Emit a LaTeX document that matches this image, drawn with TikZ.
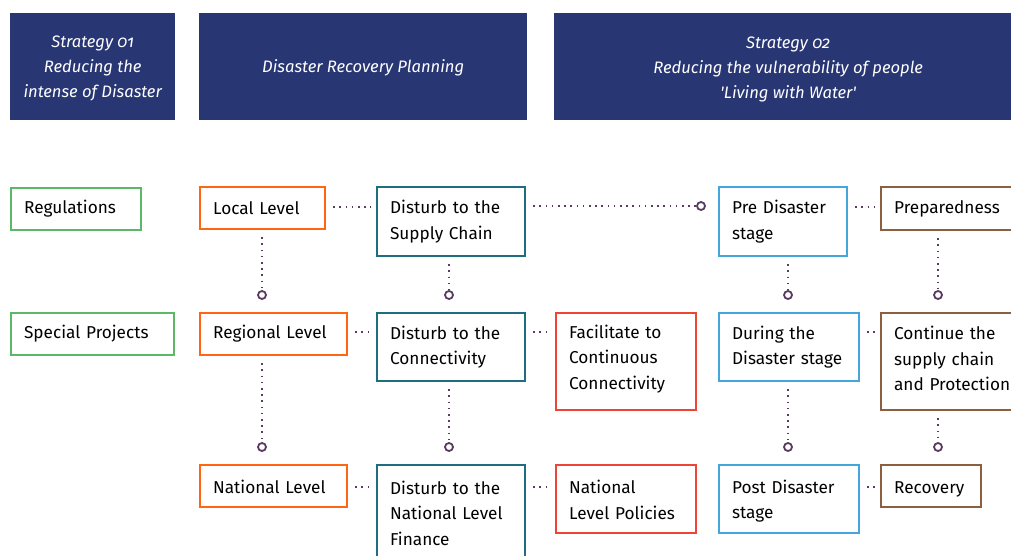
\documentclass[tikz,border=0pt]{standalone}
\usepackage{fontspec}
\setmainfont{Fira Sans}
\newfontfamily\hdrfont[Numbers=OldStyle]{Fira Sans}
\definecolor{navy}{HTML}{283673}
\definecolor{cgreen}{HTML}{5CB866}
\definecolor{corange}{HTML}{FF6614}
\definecolor{cteal}{HTML}{1F6E80}
\definecolor{cred}{HTML}{EE4436}
\definecolor{cblue}{HTML}{45A5DD}
\definecolor{cbrown}{HTML}{8C5F3F}
\definecolor{cdot}{HTML}{5A3A60}
\newcommand\upstrut[1]{\rule{0pt}{#1}}
\newcommand\dnstrut[1]{\rule[-#1]{0pt}{0pt}}
\begin{document}
\begin{tikzpicture}[x=1pt,y=-1pt,
  hdr/.style={fill=navy, text=white, align=center, anchor=north west, inner sep=0pt,
    font=\hdrfont\itshape\fontsize{16.6}{25}\selectfont},
  bx/.style={draw, fill=white, line width=2.2pt, inner xsep=13pt, inner ysep=0pt, align=left,
    anchor=north west, font=\fontsize{17.2}{25.5}\selectfont},
  dotline/.style={draw=cdot, line width=1.8pt, dash pattern=on 1.6pt off 4.6pt},
  ring/.style={circle, draw=cdot, line width=1.8pt, fill=white, minimum size=8pt, inner sep=0pt},
  hgap/.style={shorten <=7pt, shorten >=5pt}]
\useasboundingbox (0,0) rectangle (1011,556);
% headers
\node[hdr, minimum width=165pt, minimum height=107pt] (h1) at (10,13) {\upstrut{16pt}Strategy 01\\Reducing the\\intense of Disaster};
\node[hdr, minimum width=328pt, minimum height=107pt] (h2) at (199,13) {\upstrut{16pt}Disaster Recovery Planning};
\node[hdr, minimum width=468pt, minimum height=107pt] (h3) at (554,13) {\upstrut{17pt}Strategy 02\\Reducing the vulnerability of people\\'Living with Water'};
% left labels
\node[bx, draw=cgreen, text width=104pt, minimum height=42pt] (reg) at (10,187) {Regulations};
\node[bx, draw=cgreen, text width=137pt, minimum height=42pt] (spp) at (10,312) {Special Projects};
% column 1
\node[bx, draw=corange, text width=99pt, minimum height=42pt] (loc) at (199,186) {Local Level};
\node[bx, draw=corange, text width=121pt, minimum height=42pt] (rgn) at (199,312) {Regional Level};
\node[bx, draw=corange, text width=121pt, minimum height=42pt] (nat) at (199,464) {\upstrut{14pt}National Level};
% column 2
\node[bx, draw=cteal, text width=122pt, minimum height=69pt] (sc) at (376,186) {Disturb to the\\Supply Chain};
\node[bx, draw=cteal, text width=122pt, minimum height=68pt] (con) at (376,312) {Disturb to the\\Connectivity};
\node[bx, draw=cteal, text width=122pt, minimum height=96pt] (fin) at (376,464) {Disturb to the\\National Level\\Finance};
% column 3
\node[bx, draw=cred, text width=114pt, minimum height=97pt] (fac) at (555,312) {Facilitate to\\Continuous\\Connectivity\dnstrut{9pt}};
\node[bx, draw=cred, text width=114pt, minimum height=68pt] (nlp) at (555,464) {\upstrut{15pt}National\\Level Policies};
% column 4
\node[bx, draw=cblue, text width=102pt, minimum height=69pt] (pre) at (718,186) {Pre Disaster\\stage};
\node[bx, draw=cblue, text width=114pt, minimum height=68pt] (dur) at (718,312) {During the\\Disaster stage};
\node[bx, draw=cblue, text width=114pt, minimum height=68pt] (post) at (718,464) {\upstrut{17pt}Post Disaster\\stage};
% column 5
\node[bx, draw=cbrown, text width=124pt, minimum height=43pt] (prep) at (880,186) {Preparedness};
\node[bx, draw=cbrown, text width=124pt, minimum height=97pt] (cont) at (880,312) {Continue the\\supply chain\\and Protection\dnstrut{6pt}};
\node[bx, draw=cbrown, text width=74pt, minimum height=42pt] (rec) at (880,464) {\upstrut{18pt}Recovery};
% rings
\node[ring] (r1) at (262,295) {};
\node[ring] (r2) at (449,295) {};
\node[ring] (r3) at (701,206) {};
\node[ring] (r4) at (788,295) {};
\node[ring] (r5) at (938,295) {};
\node[ring] (r6) at (262,447) {};
\node[ring] (r7) at (449,447) {};
\node[ring] (r8) at (788,447) {};
\node[ring] (r9) at (938,447) {};
% horizontal dotted connectors
\path[dotline, hgap] ([yshift=-21pt]loc.north east) -- ([yshift=-21pt]sc.north west);
\path[dotline, shorten <=7pt] ([yshift=-20pt]sc.north east) -- (r3);
\path[dotline, hgap] ([yshift=-21pt]pre.north east) -- ([yshift=-21pt]prep.north west);
\path[dotline, hgap] ([yshift=-20pt]rgn.north east) -- ([yshift=-20pt]con.north west);
\path[dotline, hgap] ([yshift=-20pt]con.north east) -- ([yshift=-20pt]fac.north west);
\path[dotline, hgap] ([yshift=-20pt]dur.north east) -- ([yshift=-20pt]cont.north west);
\path[dotline, hgap] ([yshift=-23pt]nat.north east) -- ([yshift=-23pt]fin.north west);
\path[dotline, hgap] ([yshift=-23pt]fin.north east) -- ([yshift=-23pt]nlp.north west);
\path[dotline, hgap] ([yshift=-23pt]post.north east) -- ([yshift=-23pt]rec.north west);
% vertical dotted connectors
\path[dotline, shorten <=7pt] (r1 |- loc.south) -- (r1);
\path[dotline, shorten <=7pt] (r2 |- sc.south) -- (r2);
\path[dotline, shorten <=7pt] (r4 |- pre.south) -- (r4);
\path[dotline, shorten <=7pt] (r5 |- prep.south) -- (r5);
\path[dotline, shorten <=7pt] (r6 |- rgn.south) -- (r6);
\path[dotline, shorten <=7pt] (r7 |- con.south) -- (r7);
\path[dotline, shorten <=7pt] (r8 |- dur.south) -- (r8);
\path[dotline, shorten <=7pt] (r9 |- cont.south) -- (r9);
\end{tikzpicture}
\end{document}
